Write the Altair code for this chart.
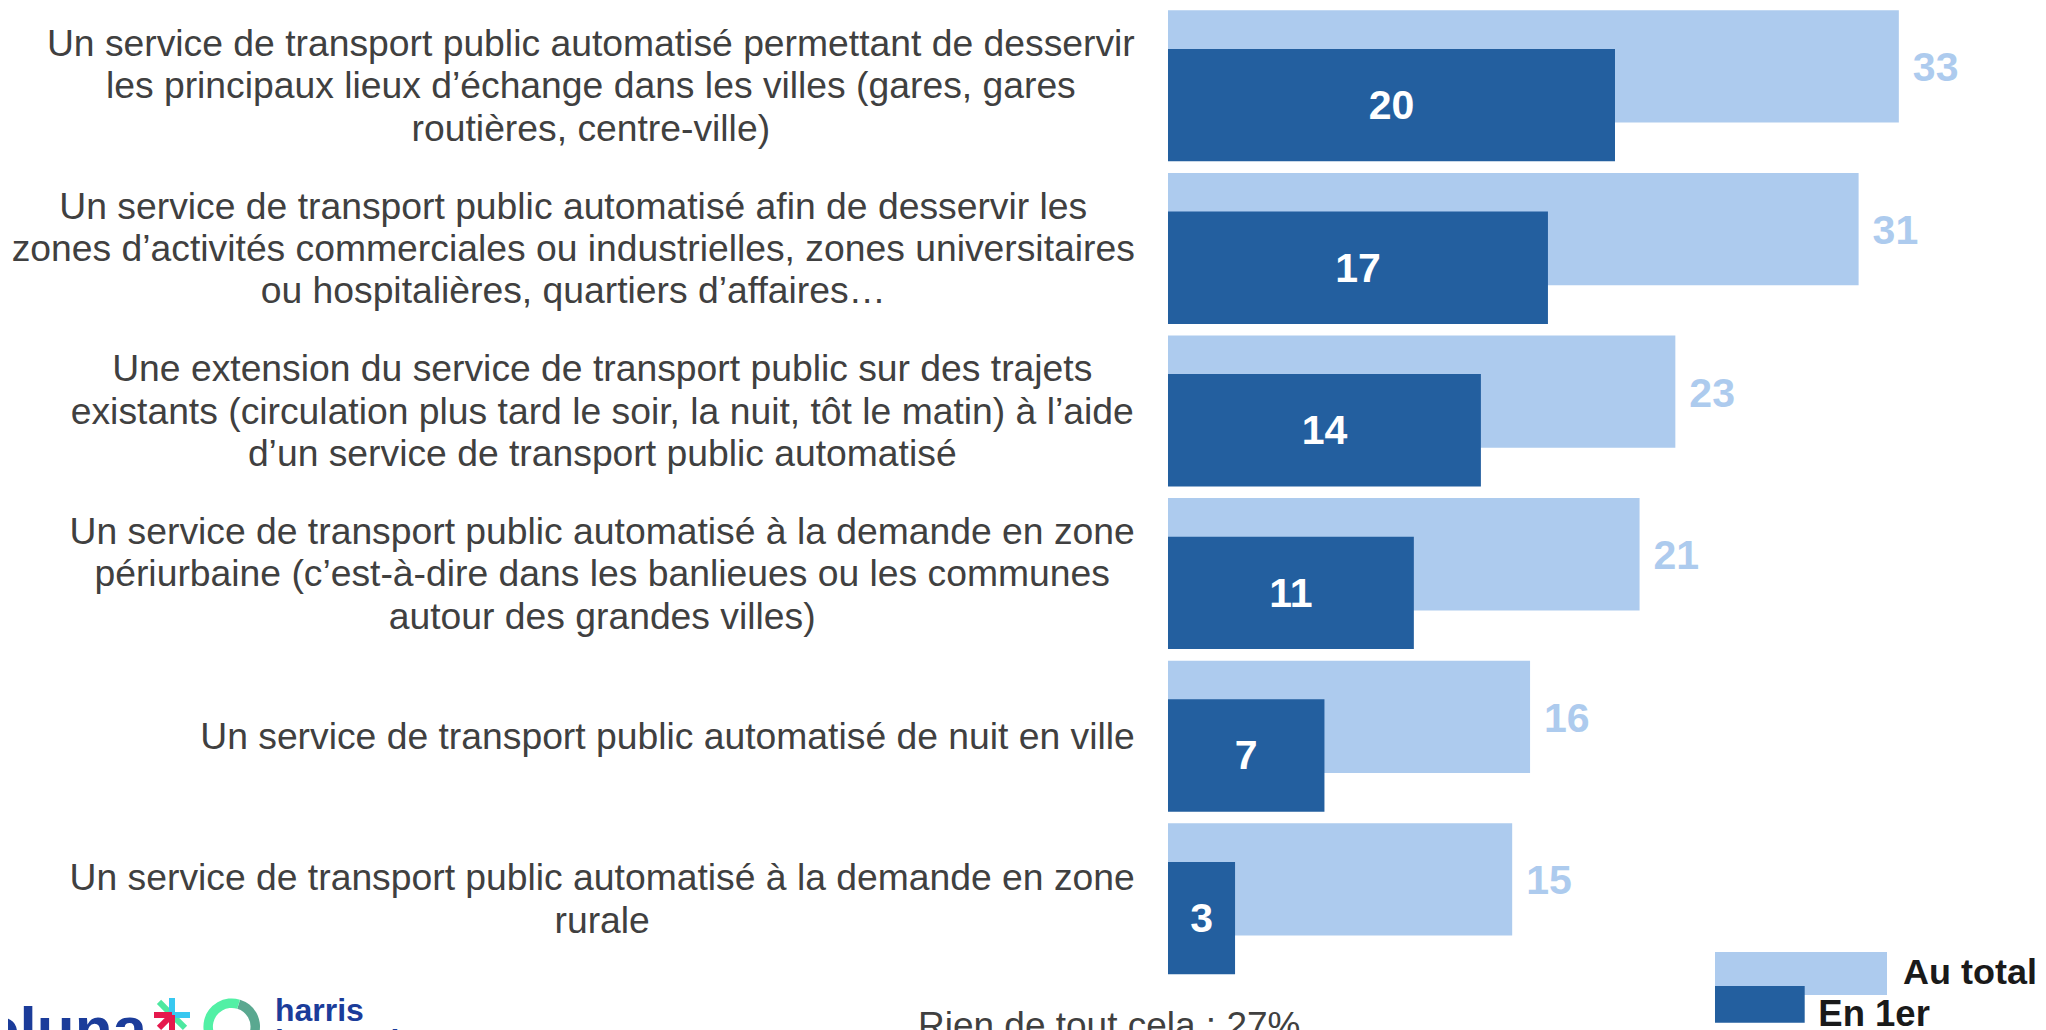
import altair as alt
import pandas as pd

# ---------------- data ----------------
label_lines = [
    ["Un service de transport public automatisé permettant de desservir",
     "les principaux lieux d’échange dans les villes (gares, gares",
     "routières, centre-ville)"],
    ["Un service de transport public automatisé afin de desservir les",
     "zones d’activités commerciales ou industrielles, zones universitaires",
     "ou hospitalières, quartiers d’affaires…"],
    ["Une extension du service de transport public sur des trajets",
     "existants (circulation plus tard le soir, la nuit, tôt le matin) à l’aide",
     "d’un service de transport public automatisé"],
    ["Un service de transport public automatisé à la demande en zone",
     "périurbaine (c’est-à-dire dans les banlieues ou les communes",
     "autour des grandes villes)"],
    ["Un service de transport public automatisé de nuit en ville"],
    ["Un service de transport public automatisé à la demande en zone",
     "rurale"],
]
au_total = [32.7, 30.9, 22.7, 21.1, 16.2, 15.4]
en_1er = [20, 17, 14, 11, 7, 3]
legend_labels = ["Au total", "En 1er"]
footer_text = "Rien de tout cela : 27%"

# ---------------- styles ----------------
LIGHT = "#ADCBEE"
DARK = "#235F9F"
TEXT = "#404040"
FONT = "Liberation Sans"
PX_PER_UNIT = 22.35
PLOT_W = 870
ROW_H = 162.6
PLOT_H = ROW_H * 6
LABEL_SIZE = 37.3
LINE_H = 42.4
LIGHT_OFF = -22.85
DARK_OFF = 15.8
CAT_OFF = -1.8

# Arial / Liberation Sans advance widths (per 1000 em)
_W = {" ": 278, "(": 333, ")": 333, ",": 278, "-": 333, ".": 278, ":": 278,
      "’": 222, "…": 1000, "%": 889, "a": 556, "b": 556, "c": 500, "d": 556,
      "e": 556, "f": 278, "g": 556, "h": 556, "i": 222, "j": 222, "k": 500,
      "l": 222, "m": 833, "n": 556, "o": 556, "p": 556, "q": 556, "r": 333,
      "s": 500, "t": 278, "u": 556, "v": 500, "w": 722, "x": 500, "y": 500,
      "z": 500, "é": 556, "è": 556, "à": 556, "ô": 556, "U": 722}


def text_width(s, size):
    return sum(_W.get(ch, 556) for ch in s) * size / 1000.0


LABEL_RIGHT = -33  # right edge of the label block, relative to plot

cats = [" ".join(l) for l in label_lines]
df = pd.DataFrame({
    "cat": cats,
    "text": ["\n".join(l) for l in label_lines],
    "nlines": [len(l) for l in label_lines],
    "cx": [LABEL_RIGHT - max(text_width(s, LABEL_SIZE) for s in l) / 2 for l in label_lines],
    "total": au_total,
    "first": en_1er,
})

y_enc = alt.Y("cat:N", sort=cats, axis=None,
              scale=alt.Scale(paddingInner=0, paddingOuter=0))
x_scale = alt.Scale(domain=[0, PLOT_W / PX_PER_UNIT], nice=False, zero=True)

base = alt.Chart(df)

light_bars = base.mark_bar(color=LIGHT, height=112.3, yOffset=LIGHT_OFF).encode(
    x=alt.X("total:Q", scale=x_scale, axis=None), y=y_enc)
dark_bars = base.mark_bar(color=DARK, height=112.4, yOffset=DARK_OFF).encode(
    x=alt.X("first:Q", scale=x_scale, axis=None), y=y_enc)

light_text = base.mark_text(align="left", baseline="middle", dx=14, dy=LIGHT_OFF + 3,
                            font=FONT, fontSize=41, fontWeight="bold",
                            color=LIGHT).encode(
    x=alt.X("total:Q", scale=x_scale, axis=None), y=y_enc,
    text=alt.Text("total:Q", format=".0f"))

dark_text = base.transform_calculate(mid="datum.first / 2").mark_text(
    align="center", baseline="middle", dy=DARK_OFF + 2, font=FONT, fontSize=41,
    fontWeight="bold", color="white").encode(
    x=alt.X("mid:Q", scale=x_scale, axis=None), y=y_enc,
    text=alt.Text("first:Q", format=".0f"))


def cat_layer(n):
    return base.transform_filter(alt.datum.nlines == n).mark_text(
        align="center", baseline="middle", dy=CAT_OFF - (n - 1) * LINE_H / 2,
        lineBreak="\n", lineHeight=LINE_H, font=FONT,
        fontSize=LABEL_SIZE, color=TEXT).encode(
        x=alt.X("cx:Q", scale=None, axis=None), y=y_enc, text="text:N")


cat_texts = [cat_layer(n) for n in sorted(set(len(l) for l in label_lines))]

one = pd.DataFrame({"k": [0]})


def rect(x1, x2, y1, y2, color):
    return alt.Chart(one).mark_rect(color=color).encode(
        x=alt.value(x1), x2=alt.value(x2), y=alt.value(y1), y2=alt.value(y2))


def label(txt, x, y, size, color, weight="normal", align="left", font=FONT):
    return alt.Chart(one).mark_text(align=align, baseline="alphabetic", font=font,
                                    fontSize=size, fontWeight=weight,
                                    color=color).encode(
        x=alt.value(x), y=alt.value(y), text=alt.value(txt))


def arm(x1, y1, x2, y2, color):
    return alt.Chart(one).mark_rule(color=color, strokeWidth=6, strokeCap="butt").encode(
        x=alt.value(x1), y=alt.value(y1), x2=alt.value(x2), y2=alt.value(y2))


legend = [
    rect(547, 719, 944, 987, LIGHT),
    rect(547, 636.7, 978, 1014.7, DARK),
    label(legend_labels[0], 735, 976, 36, "#1a1a1a", "bold"),
    label(legend_labels[1], 650.3, 1018, 36.5, "#1a1a1a", "bold"),
]

footer = [label(footer_text, -250, 1030, 37, TEXT)]

LOGO_BLUE = "#1b3c9a"
cx, cy = -996, 1007
logo = [
    label("toluna", -1021, 1042, 62, LOGO_BLUE, "bold", align="right"),
    arm(cx - 13, cy - 13, cx + 13, cy + 13, "#4de8a0"),
    arm(cx, cy - 17, cx, cy, "#38c8f0"),
    arm(cx, cy, cx + 18, cy, "#38c8f0"),
    arm(cx - 18, cy, cx, cy, "#e5194d"),
    arm(cx, cy, cx, cy + 18, "#e5194d"),
    arm(cx - 13, cy + 13, cx, cy, "#e5194d"),
    alt.Chart(one).mark_arc(radius=28.3, radius2=18.8, theta=0.3, theta2=3.3,
                            color="#5aa890").encode(x=alt.value(-936.3), y=alt.value(1018.7)),
    alt.Chart(one).mark_arc(radius=28.3, radius2=18.8, theta=3.3, theta2=6.58,
                            color="#52f0a5").encode(x=alt.value(-936.3), y=alt.value(1018.7)),
    label("harris", -893, 1013, 32, LOGO_BLUE, "bold"),
    label("interactive", -893, 1044, 32, LOGO_BLUE, "bold"),
]

chart = alt.layer(
    light_bars, dark_bars, light_text, dark_text, *cat_texts,
    *legend, *footer, *logo
).resolve_scale(x="independent").properties(
    width=PLOT_W, height=PLOT_H,
    autosize=alt.AutoSizeParams(type="none"),
    padding={"left": 1160, "top": 0, "right": 0, "bottom": 70},
).configure_view(stroke=None)

chart.save("out.html", embed_options={"renderer": "svg", "actions": False})
